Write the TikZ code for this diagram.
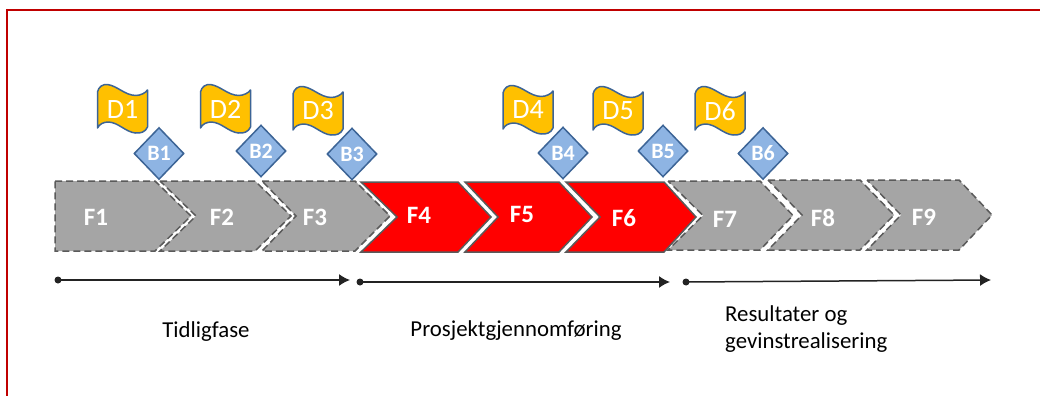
\documentclass[tikz,border=0pt]{standalone}
\usepackage{fontspec}
\setmainfont{Carlito}
\usetikzlibrary{shapes.geometric,arrows.meta}
\definecolor{framered}{RGB}{192,0,0}
\definecolor{chevgray}{RGB}{165,165,165}
\definecolor{chevline}{RGB}{90,90,90}
\definecolor{flagfill}{RGB}{255,192,0}
\definecolor{shapeblue}{RGB}{142,180,227}
\definecolor{edgeblue}{RGB}{60,100,150}
\definecolor{inkdark}{RGB}{35,35,35}
\tikzset{
  x=1pt,y=-1pt,
  grayfill/.style={fill=chevgray},
  redfill/.style={fill=red},
  dashline/.style={draw=chevline,line width=1.5pt,dash pattern=on 7pt off 4pt,line join=miter},
  solidline/.style={draw=chevline,line width=1.5pt,line join=miter},
  chevlabel/.style={text=white,font=\fontsize{25}{25}\selectfont\bfseries,inner sep=0pt},
  flagshape/.style={draw=edgeblue,fill=flagfill,line width=1.5pt,line join=round},
  flaglabel/.style={text=white,font=\fontsize{28}{28}\selectfont,inner sep=0pt},
  decision/.style={diamond,aspect=1,draw=edgeblue,fill=shapeblue,line width=1.5pt,minimum width=50pt,minimum height=52pt,inner sep=0pt,text=white,font=\fontsize{22}{22}\selectfont\bfseries},
  caption/.style={text=black,font=\fontsize{22.8}{27}\selectfont,inner sep=0pt},
  timeline/.style={draw=inkdark,line width=1.5pt,-{Latex[length=11pt,width=12pt]}},
  startdot/.style={circle,fill=inkdark,minimum size=7pt,inner sep=0pt},
}
\newcommand{\chevpath}[6]{(#1,#5) -- (#3,#5) -- (#4,{(#5+#6)/2}) -- (#3,#6) -- (#1,#6) -- (#2,{(#5+#6)/2}) -- cycle}
\newcommand{\chev}[8]{%
  \path[#7] \chevpath{#1}{#2}{#3}{#4}{#5}{#6};
  \path[#8] \chevpath{#1}{#2}{#3}{#4}{#5}{#6};
}
\newcommand{\flagat}[4]{%
  \begin{scope}[shift={(#1,#2)}]
    \path[flagshape] (0,7) .. controls (1,2) and (5,-1) .. (10,-0.5) .. controls (20,1) and (27,10) .. (38,10.5) .. controls (43,10.5) and (48,8) .. (50,5)
      -- (50,42) .. controls (48,47) and (43,48.5) .. (38,48) .. controls (28,47) and (21,37.5) .. (11,37) .. controls (6,37) and (2,39) .. (0,43) -- cycle;
    \node[flaglabel] (#3) at (25,24) {#4};
  \end{scope}
}
\begin{document}
\begin{tikzpicture}
\useasboundingbox (0,0) rectangle (1040,396);
\path[fill=white] (0,0) rectangle (1040,396);
\draw[framered,line width=2pt] (7,10) -- (1040,10);
\draw[framered,line width=2pt] (7,9) -- (7,396);

\chev{55}{55}{155}{191}{181}{251}{grayfill}{dashline}
\chev{160}{196}{255}{291}{181}{251}{grayfill}{dashline}
\chev{262}{296}{355}{390}{181}{251}{grayfill}{dashline}
\chev{361}{397}{458}{491}{182}{252}{redfill}{solidline}
\chev{465}{498}{559}{592}{182}{252}{redfill}{solidline}
\chev{566}{600}{664}{696}{182}{252}{redfill}{solidline}
\chev{668}{703}{760}{793}{181}{250}{grayfill}{dashline}
\chev{768}{802}{860}{894}{180}{250}{grayfill}{dashline}
\chev{867}{901}{959}{992}{180}{250}{grayfill}{dashline}

\node[chevlabel] (F1) at (96,217) {F1};
\node[chevlabel] (F2) at (222,217) {F2};
\node[chevlabel] (F3) at (315,217) {F3};
\node[chevlabel] (F4) at (419,215) {F4};
\node[chevlabel] (F5) at (522,214) {F5};
\node[chevlabel] (F6) at (624,218) {F6};
\node[chevlabel] (F7) at (725,219) {F7};
\node[chevlabel] (F8) at (823,218) {F8};
\node[chevlabel] (F9) at (924,217) {F9};

\flagat{97.5}{85}{D1}{D1}
\flagat{200.5}{85}{D2}{D2}
\flagat{293}{87}{D3}{D3}
\flagat{503}{86}{D4}{D4}
\flagat{593}{87}{D5}{D5}
\flagat{695}{87}{D6}{D6}

\node[decision] (B1) at (159,153.5) {B1};
\node[decision] (B2) at (261,151) {B2};
\node[decision] (B3) at (352,154) {B3};
\node[decision] (B4) at (563,153) {B4};
\node[decision] (B5) at (663,151) {B5};
\node[decision] (B6) at (763,153.5) {B6};

\node[startdot] (s1) at (58,280) {};
\coordinate (e1) at (350,280);
\node[startdot] (s2) at (360,282) {};
\coordinate (e2) at (670,282);
\node[startdot] (s3) at (686,282) {};
\coordinate (e3) at (991,280);
\draw[timeline] (s1.center) -- (e1);
\draw[timeline] (s2.center) -- (e2);
\draw[timeline] (s3.center) -- (e3);

\node[caption] (c1) at (206,332) {Tidligfase};
\node[caption] (c2) at (516,331) {Prosjektgjennomføring};
\node[caption,align=left,anchor=west] (c3) at (725,329.5) {Resultater og\\gevinstrealisering};
\end{tikzpicture}
\end{document}
